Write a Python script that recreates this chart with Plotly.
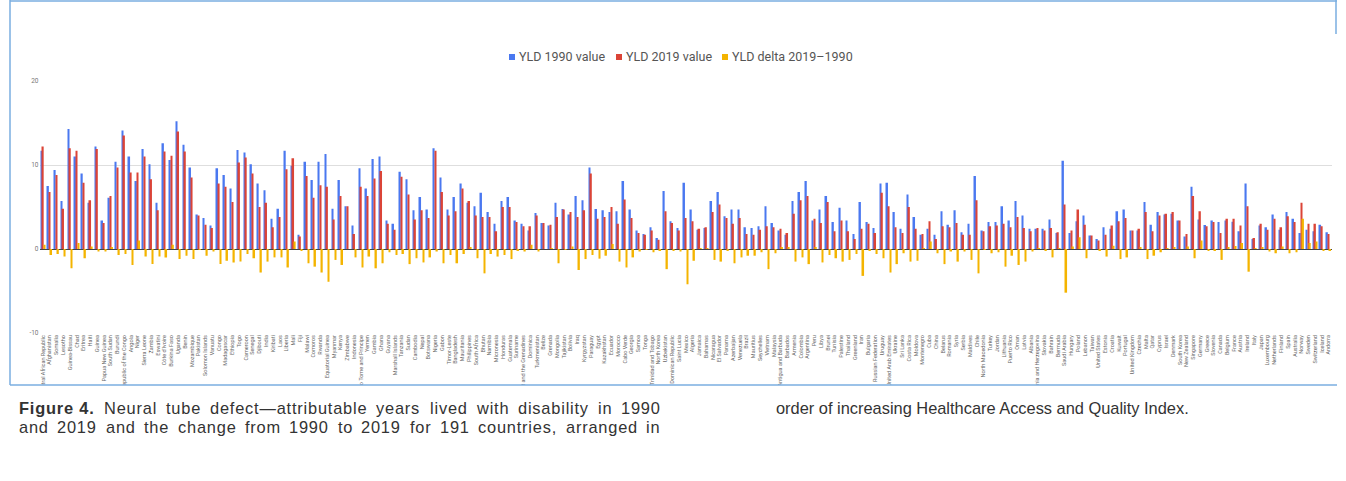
import plotly.graph_objects as go

W, H = 1346, 481

countries = [
    "Central African Republic", "Afghanistan", "Somalia", "Lesotho", "Guinea-Bissau", "Chad", "Eritrea", "Haiti", "Guinea", "Papua New Guinea",
    "South Sudan", "Burundi", "Democratic Republic of the Congo", "Angola", "Niger", "Sierra Leone", "Zambia", "Eswatini", "Côte d'Ivoire", "Burkina Faso",
    "Uganda", "Benin", "Mozambique", "Pakistan", "Solomon Islands", "Vanuatu", "Congo", "Madagascar", "Ethiopia", "Togo",
    "Cameroon", "Senegal", "Djibouti", "India", "Kiribati", "Laos", "Liberia", "Mali", "Fiji", "Malawi",
    "Comoros", "Rwanda", "Equatorial Guinea", "Myanmar", "Kenya", "Zimbabwe", "Indonesia", "Sao Tome and Principe", "Yemen", "Gambia",
    "Ghana", "Guyana", "Marshall Islands", "Tanzania", "Sudan", "Cambodia", "Nepal", "Botswana", "Nigeria", "Gabon",
    "Timor-Leste", "Bangladesh", "Mauritania", "Philippines", "South Africa", "Bhutan", "Namibia", "Micronesia", "Honduras", "Guatemala",
    "Suriname", "Saint Vincent and the Grenadines", "Dominica", "Turkmenistan", "Belize", "Grenada", "Mongolia", "Tajikistan", "Bolivia", "Iraq",
    "Kyrgyzstan", "Paraguay", "Egypt", "Kazakhstan", "Ecuador", "Morocco", "Cabo Verde", "Georgia", "Samoa", "Tonga",
    "Trinidad and Tobago", "North Korea", "Uzbekistan", "Dominican Republic", "Saint Lucia", "Mexico", "Algeria", "Jamaica", "Bahamas", "Nicaragua",
    "El Salvador", "Panama", "Azerbaijan", "Venezuela", "Brazil", "Mauritius", "Seychelles", "Vietnam", "Malaysia", "Antigua and Barbuda",
    "Barbados", "Armenia", "Colombia", "Argentina", "Peru", "Libya", "Brunei", "Tunisia", "Palestine", "Thailand",
    "Greenland", "Iran", "Bulgaria", "Russian Federation", "Uruguay", "United Arab Emirates", "Ukraine", "Sri Lanka", "Costa Rica", "Moldova",
    "Montenegro", "Cuba", "China", "Belarus", "Romania", "Syria", "Serbia", "Maldives", "Chile", "North Macedonia",
    "Turkey", "Jordan", "Lithuania", "Puerto Rico", "Oman", "Latvia", "Albania", "Bosnia and Herzegovina", "Slovakia", "Bahrain",
    "Bermuda", "Saudi Arabia", "Hungary", "Poland", "Lebanon", "Taiwan", "United States", "Estonia", "Croatia", "Kuwait",
    "Portugal", "United Kingdom", "Czechia", "Malta", "Qatar", "Cyprus", "Israel", "Denmark", "South Korea", "New Zealand",
    "Singapore", "Germany", "Greece", "Slovenia", "Canada", "Belgium", "France", "Austria", "Ireland", "Italy",
    "Japan", "Luxembourg", "Netherlands", "Finland", "Spain", "Australia", "Norway", "Sweden", "Switzerland", "Iceland",
    "Andorra",
]

yld_1990 = [
    11.7, 7.5, 9.4, 5.7, 14.3, 11.0, 9.0, 5.5, 12.2, 3.4,
    6.1, 10.4, 14.1, 11.0, 8.1, 11.9, 10.1, 5.5, 12.6, 10.6,
    15.2, 12.4, 9.7, 4.1, 3.7, 2.8, 9.6, 8.8, 7.2, 11.8,
    11.5, 10.1, 7.8, 7.0, 3.6, 4.8, 11.7, 9.9, 1.7, 10.4,
    8.2, 10.4, 11.3, 4.8, 8.2, 5.1, 2.8, 9.6, 7.2, 10.7,
    11.0, 3.4, 3.0, 9.2, 8.3, 4.6, 6.2, 4.7, 12.0, 8.5,
    4.7, 6.2, 7.8, 5.5, 5.1, 6.7, 4.4, 3.0, 5.7, 6.2,
    3.4, 3.0, 2.2, 4.3, 3.1, 2.8, 5.5, 4.75, 4.1, 6.3,
    5.8, 9.7, 4.75, 4.6, 4.4, 4.5, 8.1, 4.7, 2.2, 1.8,
    2.6, 1.3, 6.9, 3.3, 2.5, 7.9, 4.7, 2.3, 2.5, 5.7,
    6.8, 3.9, 4.7, 4.7, 2.6, 2.5, 2.7, 5.1, 3.1, 2.2,
    1.7, 5.7, 6.8, 8.1, 3.4, 4.7, 6.3, 3.2, 4.9, 3.4,
    1.8, 5.6, 3.2, 2.5, 7.8, 7.9, 4.4, 2.4, 6.5, 3.8,
    1.7, 2.4, 1.7, 4.5, 2.9, 4.6, 2.0, 3.0, 8.7, 2.2,
    3.2, 3.2, 5.1, 3.4, 5.7, 4.0, 2.4, 2.4, 2.4, 3.5,
    1.9, 10.5, 1.9, 3.3, 4.0, 1.6, 1.2, 2.6, 2.4, 4.5,
    4.7, 2.2, 2.2, 5.6, 2.9, 4.4, 4.1, 4.2, 3.4, 1.5,
    7.4, 3.5, 2.85, 3.4, 3.2, 3.4, 3.25, 2.1, 7.8, 1.2,
    2.8, 2.6, 4.1, 2.3, 4.4, 3.6, 1.9, 2.3, 2.1, 2.9,
    2.0,
]

yld_2019 = [
    12.2, 6.8, 8.8, 4.8, 12.0, 11.7, 7.9, 5.8, 11.9, 3.1,
    6.3, 9.7, 13.5, 9.1, 9.1, 11.0, 8.3, 4.6, 11.6, 11.1,
    14.0, 11.6, 8.5, 4.0, 2.9, 2.5, 7.8, 7.4, 5.6, 10.3,
    10.9, 9.0, 5.0, 5.5, 2.6, 3.8, 9.5, 10.8, 1.5, 8.7,
    6.1, 7.6, 7.4, 3.5, 6.3, 5.1, 1.8, 7.4, 6.3, 8.4,
    9.3, 3.0, 2.3, 8.6, 6.5, 3.5, 4.6, 3.7, 11.7, 6.8,
    4.0, 4.5, 7.2, 5.7, 4.0, 3.8, 3.8, 2.1, 5.0, 5.0,
    3.2, 2.7, 2.7, 4.0, 3.1, 2.9, 3.8, 4.7, 4.4, 3.8,
    4.6, 9.0, 3.6, 3.8, 5.0, 3.0, 5.9, 3.7, 1.9, 1.7,
    2.2, 1.1, 4.5, 3.1, 2.2, 3.7, 3.3, 2.4, 2.6, 4.4,
    5.3, 3.7, 3.0, 3.7, 1.8, 1.7, 2.3, 2.7, 2.6, 2.4,
    1.9, 4.2, 5.8, 6.3, 3.6, 3.1, 5.6, 2.1, 3.4, 2.1,
    1.2, 2.4, 3.0, 1.9, 6.7, 5.1, 2.6, 1.9, 5.0, 2.4,
    1.8, 3.3, 1.2, 2.7, 2.6, 3.1, 1.7, 1.7, 5.8, 2.1,
    2.7, 2.8, 3.0, 2.6, 3.8, 2.5, 2.1, 2.5, 2.2, 2.5,
    2.0, 5.3, 2.2, 4.7, 2.9, 1.6, 1.0, 1.7, 2.8, 3.3,
    3.7, 2.2, 2.4, 4.4, 2.1, 4.0, 4.2, 4.4, 3.4, 1.8,
    6.3, 4.5, 2.7, 3.2, 1.9, 3.6, 3.6, 2.8, 5.1, 1.3,
    3.0, 2.3, 3.6, 2.6, 3.9, 3.2, 5.5, 3.0, 3.0, 2.7,
    1.8,
]

yld_delta = [
    0.5, -0.7, -0.6, -0.9, -2.3, 0.7, -1.1, 0.3, -0.3, -0.3,
    0.2, -0.7, -0.6, -1.9, 1.0, -0.9, -1.8, -0.9, -1.0, 0.5,
    -1.2, -0.8, -1.2, -0.1, -0.8, -0.3, -1.8, -1.4, -1.6, -1.5,
    -0.6, -1.1, -2.8, -1.5, -1.0, -1.0, -2.2, 0.9, -0.2, -1.7,
    -2.1, -2.8, -3.9, -1.3, -1.9, 0.0, -1.0, -2.2, -0.9, -2.3,
    -1.7, -0.4, -0.7, -0.6, -1.8, -1.1, -1.6, -1.0, -0.3, -1.7,
    -0.7, -1.7, -0.6, 0.2, -1.1, -2.9, -0.6, -0.9, -0.7, -1.2,
    -0.2, -0.3, 0.5, -0.3, 0.0, 0.1, -1.7, -0.05, 0.3, -2.5,
    -1.2, -0.7, -1.15, -0.8, 0.6, -1.5, -2.2, -1.0, -0.3, -0.1,
    -0.4, -0.2, -2.4, -0.2, -0.3, -4.2, -1.4, 0.1, 0.1, -1.3,
    -1.5, -0.2, -1.7, -1.0, -0.8, -0.8, -0.4, -2.4, -0.5, 0.2,
    0.2, -1.5, -1.0, -1.8, 0.2, -1.6, -0.7, -1.1, -1.5, -1.3,
    -0.6, -3.2, -0.2, -0.6, -1.1, -2.8, -1.8, -0.5, -1.5, -1.4,
    0.1, 0.9, -0.5, -1.8, -0.3, -1.5, -0.3, -1.3, -2.9, -0.1,
    -0.5, -0.4, -2.1, -0.8, -1.9, -1.5, -0.3, 0.1, -0.2, -1.0,
    0.1, -5.2, 0.3, 1.4, -1.1, 0.0, -0.2, -0.9, 0.4, -1.2,
    -1.0, 0.0, 0.2, -1.2, -0.8, -0.4, 0.1, 0.2, 0.0, 0.3,
    -1.1, 1.0, -0.15, -0.2, -1.3, 0.2, 0.35, 0.7, -2.7, 0.1,
    0.2, -0.3, -0.5, 0.3, -0.5, -0.4, 3.6, 0.7, 0.9, -0.2,
    -0.2,
]

series_names = ["YLD 1990 value", "YLD 2019 value", "YLD delta 2019–1990"]

caption_lines = [
    ["Figure 4.", "Neural", "tube", "defect—attributable", "years", "lived", "with", "disability", "in", "1990"],
    ["and", "2019", "and", "the", "change", "from", "1990", "to", "2019", "for", "191", "countries,", "arranged", "in"],
]
caption_right = "order of increasing Healthcare Access and Quality Index."

assert len(countries) == len(yld_1990) == len(yld_2019) == len(yld_delta) == 191

BLUE = "#4a78f0"
RED = "#db4437"
YELLOW = "#f4b400"
FRAME = "#7aaee0"
COLORS = [BLUE, RED, YELLOW]


def px(x):
    return x / W


def py(y):
    return 1 - y / H


# Arial / Liberation Sans advance widths (per 1000 em) used to justify the caption
_ARIAL = {
    " ": 278, "a": 556, "b": 556, "c": 500, "d": 556, "e": 556, "f": 278, "g": 556, "h": 556,
    "i": 222, "j": 222, "k": 500, "l": 222, "m": 833, "n": 556, "o": 556, "p": 556, "q": 556,
    "r": 333, "s": 500, "t": 278, "u": 556, "v": 500, "w": 722, "x": 500, "y": 500, "z": 500,
    ".": 278, ",": 278, "—": 1000, "–": 556, "F": 611, "N": 722,
}
_ARIAL_BOLD = {"F": 611, "i": 278, "g": 611, "u": 611, "r": 389, "e": 556, " ": 278, ".": 278}


def text_width(s, size, bold=False, spacing=0.0):
    table = _ARIAL_BOLD if bold else _ARIAL
    return sum(table.get(c, _ARIAL.get(c, 556)) for c in s) * size / 1000 + spacing * len(s)


fig = go.Figure()
for name, vals, col in zip(series_names, [yld_1990, yld_2019, yld_delta], COLORS):
    fig.add_bar(x=countries, y=vals, name=name, marker=dict(color=col, line_width=0))

fig.update_layout(
    width=W, height=H,
    margin=dict(l=0, r=0, t=0, b=0),
    paper_bgcolor="white", plot_bgcolor="white",
    barmode="group", bargap=0.3, bargroupgap=0,
    showlegend=False,
    font=dict(family="Roboto, Arial, sans-serif", color="#555"),
)

fig.update_xaxes(
    domain=[px(39.5), px(1332)],
    type="category",
    tickmode="array", tickvals=countries, ticktext=countries,
    tickangle=-90, tickfont=dict(size=5.5, color="#666"),
    showgrid=False, showline=False, ticks="", automargin=False,
)
fig.update_yaxes(
    domain=[py(333), py(81)],
    range=[-10, 20],
    tickvals=[-10, 0, 10, 20], ticktext=["-10", "0", "10", "20"],
    tickfont=dict(size=6.5, color="#777"),
    showgrid=True, gridcolor="#dedede", gridwidth=1,
    zeroline=True, zerolinecolor="#444", zerolinewidth=1,
    showline=False, ticks="", automargin=False,
)

annotations = []
shapes = []

# legend row: small coloured squares followed by series names
legend_x = [509, 616, 722]
for name, col, x0 in zip(series_names, COLORS, legend_x):
    shapes.append(dict(type="rect", xref="paper", yref="paper",
                       x0=px(x0), x1=px(x0 + 6), y0=py(60), y1=py(54),
                       fillcolor=col, line_width=0))
    annotations.append(dict(x=px(x0 + 8), y=py(57), xref="paper", yref="paper", text=name,
                            showarrow=False, xanchor="left", yanchor="middle",
                            font=dict(size=12.5, color="#555", family="Roboto, Arial, sans-serif")))

# caption: two justified lines in the left column, one line in the right column
CAP_SIZE = 16.4
LS = 0.8  # letter spacing of the justified lines
cap_font = dict(size=CAP_SIZE, color="#333", family="Liberation Sans, Arial, sans-serif")
col_left, col_right = 18, 659
for words, yc in zip(caption_lines, [408, 427]):
    bold_flags = [w.startswith("Figure") for w in words]
    widths = [text_width(w, CAP_SIZE, b, LS) for w, b in zip(words, bold_flags)]
    gap = (col_right + LS - col_left - sum(widths)) / (len(words) - 1)
    x = col_left
    for w, b, wd in zip(words, bold_flags, widths):
        inner = f"<b>{w}</b>" if b else w
        annotations.append(dict(x=px(x), y=py(yc), xref="paper", yref="paper",
                                text=f"<span style='letter-spacing:{LS}px'>{inner}</span>",
                                showarrow=False, xanchor="left", yanchor="middle",
                                xshift=-1, font=cap_font))
        x += wd + gap
annotations.append(dict(x=px(775), y=py(408), xref="paper", yref="paper", text=caption_right,
                        showarrow=False, xanchor="left", yanchor="middle", xshift=-1, font=cap_font))

shapes += [
    # white band below the frame trims overlong category labels
    dict(type="rect", xref="paper", yref="paper", x0=0, x1=1, y0=py(H), y1=py(385),
         fillcolor="white", line_width=0, layer="above"),
    dict(type="line", xref="paper", yref="paper", x0=px(10), x1=px(10), y0=py(0), y1=py(385),
         line=dict(color=FRAME, width=1.5), layer="above"),
    dict(type="line", xref="paper", yref="paper", x0=px(10), x1=px(1337), y0=py(385), y1=py(385),
         line=dict(color=FRAME, width=1.5), layer="above"),
    dict(type="line", xref="paper", yref="paper", x0=px(1336), x1=px(1336), y0=py(0), y1=py(34),
         line=dict(color=FRAME, width=1.5), layer="above"),
    dict(type="line", xref="paper", yref="paper", x0=px(10), x1=px(1337), y0=py(1), y1=py(1),
         line=dict(color=FRAME, width=1.5), layer="above"),
]

fig.update_layout(annotations=annotations, shapes=shapes)
fig.write_html("out.html")
